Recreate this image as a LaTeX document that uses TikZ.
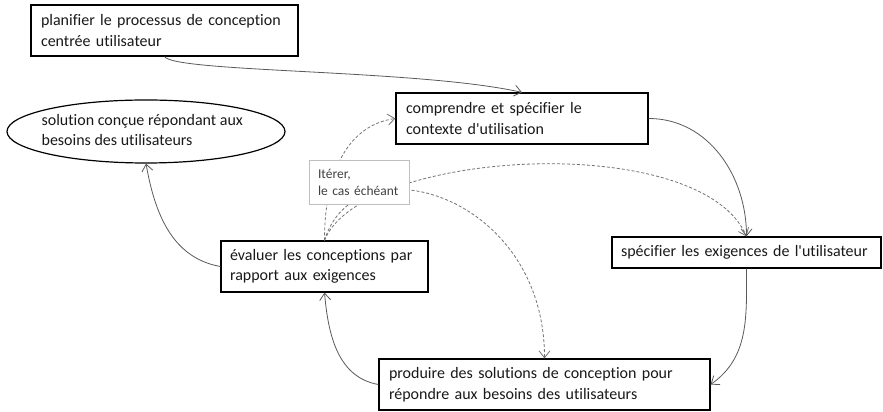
\documentclass[tikz,border=0pt]{standalone}
\usepackage{fontspec}
\setmainfont{Carlito}[Ligatures=NoCommon]
\usetikzlibrary{arrows.meta,shapes.geometric}

\begin{document}
\begin{tikzpicture}[x=1pt,y=1pt,
  etape/.style={draw=black,line width=1.2pt,fill=white,inner xsep=10pt,inner ysep=0pt,align=left,
    font=\fontsize{16pt}{20.5pt}\selectfont,text=black!90},
  fleche/.style={line width=0.8pt,color=black!65,-{Straight Barb[length=7pt,width=11pt,line width=0.8pt]}},
  iteration/.style={fleche,dash pattern=on 3pt off 2pt,color=black!55}]
\useasboundingbox (0,0) rectangle (883,412);
\node[etape,minimum width=267pt,minimum height=51pt,text width=247pt] (plan) at (164.5,381.5) {planifier le processus de conception\\centrée utilisateur};
\node[draw,ellipse,line width=1.2pt,minimum width=278pt,minimum height=63pt] (sol) at (146,280.5) {};
\node[etape,draw=none,fill=none,inner xsep=0pt,anchor=west] (soltxt) at (41,282) {solution conçue répondant aux\\besoins des utilisateurs};
\node[etape,minimum width=252pt,minimum height=51pt,text width=232pt] (comp) at (522,293.5) {comprendre et spécifier le\\contexte d\textquotesingle utilisation};
\node[etape,minimum width=269pt,minimum height=31pt,text width=251pt,inner xsep=9pt] (spec) at (746.5,159.5) {spécifier les exigences de l\textquotesingle utilisateur};
\node[etape,minimum width=207pt,minimum height=51pt,text width=189pt,inner xsep=9pt] (eval) at (324.5,145.5) {évaluer les conceptions par\\rapport aux exigences};
\node[etape,minimum width=331pt,minimum height=51pt,text width=311pt] (prod) at (544.5,27.5) {produire des solutions de conception pour\\répondre aux besoins des utilisateurs};
% iterer, le cas echeant
\draw[iteration] (eval.north) .. controls +(0,71) and +(-46,-6.5) .. (comp.west);
\draw[iteration] (eval.north) .. controls +(35.5,91) and +(-46.5,107) .. (spec.north);
\draw[iteration] (eval.north) .. controls +(30.5,101) and +(0,165) .. (prod.north);
\node[draw=black!25,line width=0.8pt,fill=white,inner xsep=9pt,inner ysep=0pt,text width=82pt,minimum height=44pt,align=left,
  font=\fontsize{13.5pt}{17pt}\selectfont,text=black!75] (iterer) at (359,230) {Itérer,\\le cas échéant};
% cycle
\draw[fleche] (plan.south) .. controls +(10.5,-16) and +(-102,23) .. (comp.north);
\draw[fleche] (comp.east) to[out=0,in=90] (spec.north);
\draw[fleche] (spec.south) to[out=-90,in=35] (prod.east);
\draw[fleche] (prod.west) to[out=170,in=-85] (eval.south);
\draw[fleche] (eval.west) to[out=170,in=-80] (sol.south);
\end{tikzpicture}
\end{document}
